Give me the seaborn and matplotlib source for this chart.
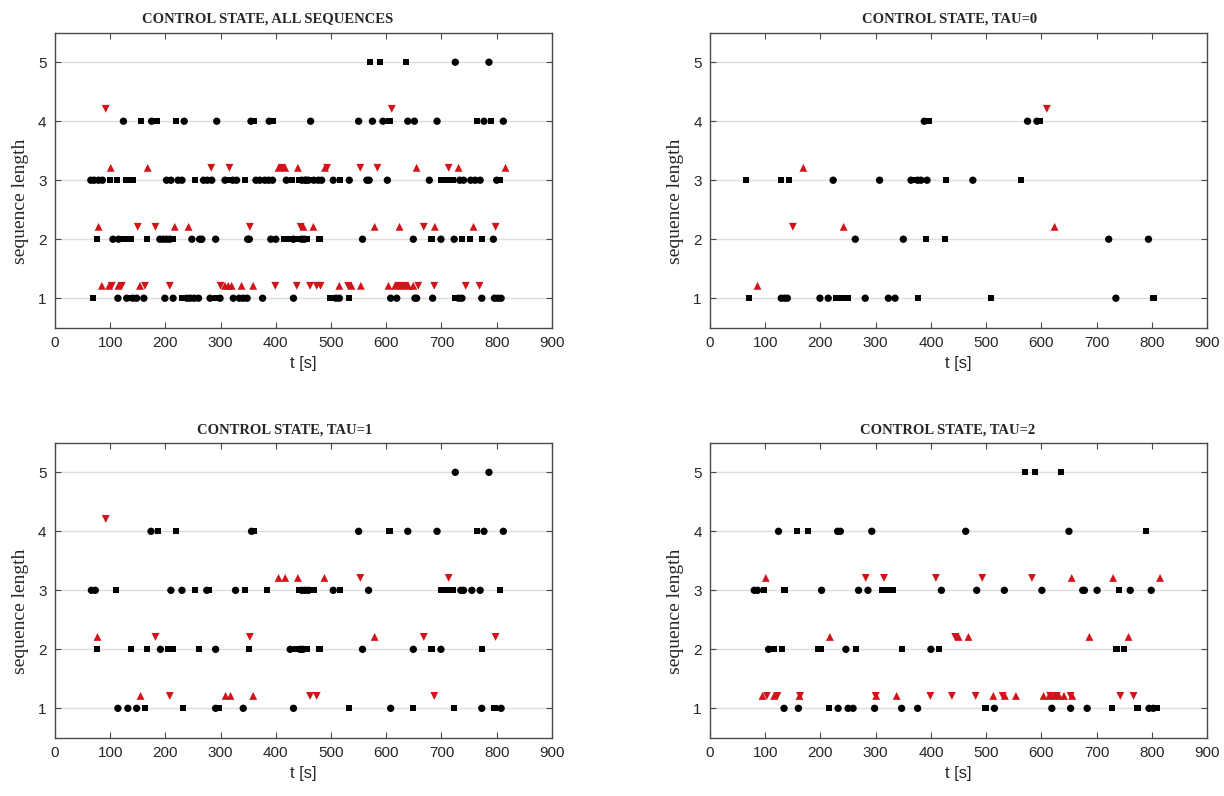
import pandas as pd
import matplotlib
matplotlib.use("Agg")
import matplotlib.pyplot as plt
import seaborn as sns

# Time stamps [s] of each sequence, grouped by sequence length
# --- all sequences ---
ALL_SQUARE = {
    1: [69, 135, 231, 291, 499, 533, 725],
    2: [76, 121, 131, 138, 166, 214, 415, 426, 439, 456, 479, 682, 737, 751, 773],
    3: [100, 112, 129, 135, 141, 254, 315, 344, 430, 443, 461, 516, 700, 710, 720, 806],
    4: [156, 185, 219, 361, 394, 606, 765, 789],
    5: [570, 589, 636],
}
ALL_CIRCLE = {
    1: [114, 130, 141, 148, 161, 199, 214, 239, 245, 252, 260, 281, 299, 323, 334, 341,
        348, 376, 432, 509, 515, 608, 619, 652, 655, 684, 731, 737, 773, 796, 802, 808],
    2: [105, 115, 190, 196, 202, 208, 248, 262, 266, 291, 349, 352, 391, 400, 432, 447,
        452, 557, 649, 699, 723, 794],
    3: [65, 71, 79, 86, 202, 210, 223, 230, 269, 276, 284, 308, 322, 329, 364, 371, 380,
        387, 394, 419, 453, 459, 447, 455, 469, 477, 483, 504, 533, 565, 569, 602, 678,
        733, 740, 753, 761, 770, 800],
    4: [124, 175, 234, 293, 355, 388, 463, 550, 575, 594, 639, 651, 692, 777, 812],
    5: [725, 786],
}
ALL_UP = {
    1: [85, 98, 115, 154, 308, 314, 320, 338, 359, 515, 537, 554, 604, 616, 628, 640, 649],
    2: [79, 217, 242, 450, 468, 579, 624, 688, 758],
    3: [101, 168, 405, 417, 440, 489, 655, 731, 816],
}
ALL_DOWN = {
    1: [103, 121, 163, 208, 300, 399, 438, 462, 474, 481, 531, 622, 634, 658, 687, 744, 769],
    2: [150, 182, 353, 445, 668, 798],
    3: [283, 316, 411, 493, 553, 584, 713],
    4: [92, 610],
}

# --- tau = 0 ---
TAU0_SQUARE = {
    1: [70, 228, 240, 250, 376, 509, 803],
    2: [391, 426],
    3: [65, 128, 143, 370, 428, 563],
    4: [396, 597],
}
TAU0_CIRCLE = {
    1: [129, 135, 140, 199, 214, 281, 323, 335, 735],
    2: [263, 350, 722, 794],
    3: [223, 307, 364, 376, 382, 393, 476],
    4: [388, 575, 592],
}
TAU0_UP = {1: [86], 2: [242, 624], 3: [169]}
TAU0_DOWN = {2: [150], 4: [610]}

# --- tau = 1 ---
TAU1_SQUARE = {
    1: [163, 232, 296, 533, 649, 723, 796],
    2: [76, 138, 166, 205, 213, 261, 351, 436, 456, 479, 682, 773],
    3: [111, 253, 278, 344, 384, 443, 461, 469, 516, 699, 710, 720, 806],
    4: [186, 219, 361, 606, 765],
}
TAU1_CIRCLE = {
    1: [114, 132, 148, 291, 341, 432, 608, 773, 808],
    2: [191, 291, 426, 444, 449, 557, 649, 699],
    3: [66, 73, 210, 230, 275, 327, 447, 453, 459, 504, 568, 735, 740, 755, 770],
    4: [174, 356, 550, 639, 692, 777, 812],
    5: [725, 786],
}
TAU1_UP = {1: [155, 309, 318, 359], 2: [77, 579], 3: [405, 417, 440, 488]}
TAU1_DOWN = {1: [208, 462, 474, 687], 2: [182, 353, 668, 798], 3: [553, 713], 4: [92]}

# --- tau = 2 ---
TAU2_SQUARE = {
    1: [215, 499, 728, 774, 809],
    2: [116, 130, 196, 201, 264, 347, 415, 736, 749],
    3: [98, 135, 311, 319, 326, 332, 740],
    4: [157, 177, 789],
    5: [570, 589, 635],
}
TAU2_CIRCLE = {
    1: [134, 160, 232, 250, 259, 298, 347, 376, 515, 619, 653, 683, 795, 803],
    2: [106, 246, 400],
    3: [80, 86, 202, 269, 286, 419, 483, 533, 601, 675, 678, 701, 761, 799],
    4: [124, 231, 236, 293, 463, 650],
}
TAU2_UP = {
    1: [95, 116, 162, 301, 338, 513, 534, 554, 604, 614, 623, 632, 641, 656],
    2: [217, 450, 468, 687, 758],
    3: [101, 655, 730, 815],
}
TAU2_DOWN = {
    1: [103, 122, 163, 300, 399, 438, 481, 530, 616, 628, 653, 743, 767],
    2: [444],
    3: [282, 315, 409, 493, 583],
}

TITLES = ["CONTROL STATE, ALL SEQUENCES", "CONTROL STATE, TAU=0",
          "CONTROL STATE, TAU=1", "CONTROL STATE, TAU=2"]
PANELS = [
    (ALL_SQUARE, ALL_CIRCLE, ALL_UP, ALL_DOWN),
    (TAU0_SQUARE, TAU0_CIRCLE, TAU0_UP, TAU0_DOWN),
    (TAU1_SQUARE, TAU1_CIRCLE, TAU1_UP, TAU1_DOWN),
    (TAU2_SQUARE, TAU2_CIRCLE, TAU2_UP, TAU2_DOWN),
]

# Styling
RED = "#d0141a"
RED_OFFSET = 0.21  # red markers drawn slightly above their level
MARKERS = {"square": "s", "circle": "o", "up": "^", "down": "v"}
PALETTE = {"square": "black", "circle": "black", "up": RED, "down": RED}
SIZES = {"square": 20, "circle": 28, "up": 32, "down": 32}

# axes boxes in figure fraction [left, bottom, width, height]
BOXES = [[0.0449, 0.5883, 0.406, 0.3706], [0.5801, 0.5883, 0.406, 0.3706],
         [0.0449, 0.0731, 0.406, 0.3706], [0.5801, 0.0731, 0.406, 0.3706]]
TITLE_X = [0.427, 0.481, 0.463, 0.479]


def panel_frame(squares, circles, ups, downs):
    """Long table of one panel: time, level, marker kind"""
    rows = []
    for kind, series in (("square", squares), ("circle", circles),
                         ("up", ups), ("down", downs)):
        for length, times in series.items():
            for t in times:
                rows.append({"t": t, "length": length, "kind": kind})
    df = pd.DataFrame(rows)
    red = df["kind"].isin(["up", "down"])
    df["y"] = df["length"] + red * RED_OFFSET
    return df


sns.set_style("white")
plt.rcParams["font.family"] = ["Liberation Sans", "DejaVu Sans"]

fig = plt.figure(figsize=(12.24, 7.96), dpi=100)

for i, (parts, title) in enumerate(zip(PANELS, TITLES)):
    ax = fig.add_axes(BOXES[i])
    df = panel_frame(*parts)
    sns.scatterplot(data=df, x="t", y="y", hue="kind", style="kind", size="kind",
                    palette=PALETTE, markers=MARKERS, sizes=SIZES,
                    linewidth=0, edgecolor="none", legend=False, ax=ax, zorder=3)

    ax.set_xlim(0, 900)
    ax.set_ylim(0.5, 5.5)
    ax.set_xticks(range(0, 901, 100))
    ax.set_yticks([1, 2, 3, 4, 5])
    ax.yaxis.grid(True, color="#dedede", linewidth=1.0, zorder=0)
    ax.xaxis.grid(False)
    ax.set_axisbelow(True)
    for sp in ax.spines.values():
        sp.set_color("#4a4a4a")
        sp.set_linewidth(1.0)
    ax.tick_params(direction="in", length=4, width=0.8, color="#4a4a4a",
                   top=True, right=True, bottom=True, left=True,
                   labelsize=11, labelcolor="#262626", pad=6)

    ax.set_title(title, x=TITLE_X[i], fontsize=10.5, fontweight="bold",
                 family="Liberation Serif", pad=7)
    ax.set_xlabel("t [s]", fontsize=12, color="#262626", labelpad=4)
    ax.set_ylabel("sequence length", fontsize=14, family="Liberation Serif",
                  color="#262626")
    ax.yaxis.set_label_coords(-0.052, 0.43)

fig.savefig("out.png", dpi=100)
